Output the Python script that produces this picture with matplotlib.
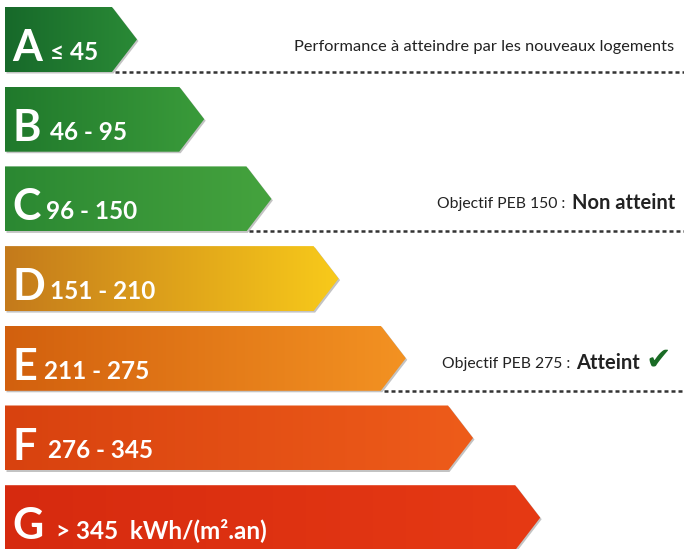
import numpy as np
import matplotlib.pyplot as plt
from matplotlib.patches import Polygon
from matplotlib.colors import LinearSegmentedColormap

# classes of the PEB label
letters = ['A', 'B', 'C', 'D', 'E', 'F', 'G']
ranges = ['≤ 45', '46 - 95', '96 - 150', '151 - 210', '211 - 275', '276 - 345', '> 345  kWh/(m².an)']
left_cols = ['#17692a', '#20792c', '#2b8832', '#c47a1c', '#d2600e', '#d8420f', '#d62a0f']
right_cols = ['#2a8a36', '#3a9b3a', '#45a33e', '#f8ca1a', '#f39222', '#ee5c1a', '#e63a14']

# targets shown on the right side
target_rows = [0, 2, 4]
target_texts = ['Performance à atteindre par les nouveaux logements',
                'Objectif PEB 150 : ', 'Objectif PEB 275 : ']
target_status = ['', 'Non atteint', 'Atteint']

W, H = 684, 549
fig = plt.figure(figsize=(W / 100, H / 100), dpi=100)
ax = fig.add_axes([0, 0, 1, 1])
ax.set_xlim(0, W)
ax.set_ylim(H, 0)
ax.axis('off')

x0 = 5
top0 = 7
step = 79.7
bar_h = 65
body0 = 112
grow = 67.2
tip = 25
num_x = [50, 50, 46, 50, 44, 48, 56]

for i, (let, rng) in enumerate(zip(letters, ranges)):
    t = top0 + i * step
    b = t + bar_h
    xe = body0 + i * grow
    pts = [(x0, t), (xe, t), (xe + tip, (t + b) / 2), (xe, b), (x0, b)]
    # thin shadow
    sh = Polygon([(px + 1.5, py + 1.5) for px, py in pts], closed=True,
                 facecolor='#555555', alpha=0.35, edgecolor='none', zorder=1)
    ax.add_patch(sh)
    poly = Polygon(pts, closed=True, facecolor='none', edgecolor='none', zorder=2)
    ax.add_patch(poly)
    cmap = LinearSegmentedColormap.from_list('c%d' % i, [left_cols[i], right_cols[i]])
    grad = np.linspace(0, 1, 256).reshape(1, -1)
    im = ax.imshow(grad, cmap=cmap, extent=[x0, xe + tip, b, t], aspect='auto',
                   interpolation='bilinear', zorder=2)
    im.set_clip_path(poly)
    ax.text(x0 + 7, b - 11, let, color='white', fontsize=31, fontweight='bold',
            family='Lato', va='baseline', ha='left', zorder=3)
    ax.text(num_x[i], b - 12, rng, color='white', fontsize=17.5,
            fontweight='bold', family='Lato', va='baseline', ha='left', zorder=3)

# dashed target lines and texts
for k, r in enumerate(target_rows):
    t = top0 + r * step
    b = t + bar_h
    xe = body0 + r * grow
    ax.plot([xe + 3, W], [b, b], color='#333333', lw=1.8, ls=(0, (1.6, 1.2)), zorder=3)
    if target_status[k] == '':
        ax.text(674, b - 25, target_texts[k], fontsize=11.8, family='Lato',
                color='#222222', ha='right', va='center')
    else:
        ymid = b - 28
        xr = 675 if k == 1 else 640
        st = ax.text(xr, ymid, target_status[k], fontsize=14.5, fontweight='bold',
                     family='Lato', color='#222222', ha='right', va='center')
        fig.canvas.draw()
        bb = st.get_window_extent()
        xs = ax.transData.inverted().transform((bb.x0, 0))[0]
        ax.text(xs - 2, ymid + 1, target_texts[k], fontsize=11.3, family='Lato',
                color='#222222', ha='right', va='center')
        if target_status[k] == 'Atteint':
            ax.text(658, ymid - 3, '✔', fontsize=22, family='DejaVu Sans',
                    color='#1a6b25', ha='center', va='center')

fig.savefig('out.png', dpi=100)
